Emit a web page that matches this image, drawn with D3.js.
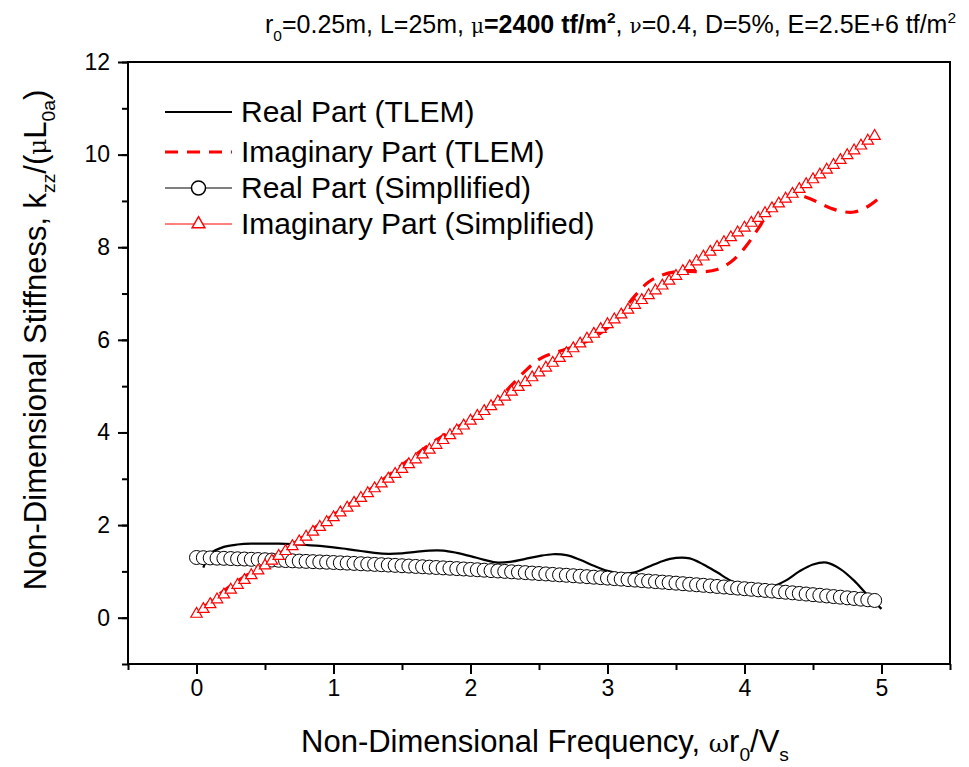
<!DOCTYPE html>
<html>
<head>
<meta charset="utf-8">
<script src="https://cdn.jsdelivr.net/npm/d3@7"></script>
<style>
  body { margin: 0; background: #fff; }
  text { font-family: "Liberation Sans", Arial, sans-serif; fill: #000; }
</style>
</head>
<body>
<div id="plot"></div>
<script>
// TLEM results, every 0.1
var xTlem = [0.05,0.1,0.2,0.3,0.4,0.5,0.6,0.7,0.8,0.9,1.0,1.1,1.2,1.3,1.4,1.5,1.6,1.7,1.8,1.9,2.0,
  2.1,2.2,2.3,2.4,2.5,2.6,2.7,2.8,2.9,3.0,3.1,3.2,3.3,3.4,3.5,3.6,3.7,3.8,3.9,4.0,
  4.1,4.2,4.3,4.4,4.5,4.6,4.7,4.8,4.9,5.0];
var realTlem = [1.08,1.38,1.53,1.58,1.60,1.60,1.60,1.59,1.57,1.55,1.52,1.48,1.44,1.40,1.38,1.39,1.42,1.45,1.45,1.40,1.33,
  1.25,1.19,1.21,1.27,1.33,1.37,1.35,1.25,1.12,1.01,0.95,0.98,1.10,1.22,1.29,1.28,1.15,0.98,0.80,0.68,
  0.64,0.67,0.80,1.00,1.15,1.19,1.05,0.80,0.48,0.19];
var imagTlem = [0.20,0.35,0.58,0.79,0.98,1.17,1.37,1.58,1.80,2.02,2.22,2.42,2.62,2.84,3.07,3.30,3.52,3.74,3.93,4.11,4.29,
  4.48,4.72,5.02,5.33,5.58,5.71,5.80,5.90,6.05,6.26,6.58,6.95,7.25,7.40,7.47,7.48,7.47,7.52,7.68,7.98,
  8.40,8.85,9.08,9.12,9.02,8.88,8.78,8.76,8.88,9.10];

// simplified model, one marker every 0.05
var xSimp = [0,0.05,0.1,0.15,0.2,0.25,0.3,0.35,0.4,0.45,0.5,0.55,0.6,0.65,0.7,0.75,0.8,0.85,0.9,0.95,
  1.0,1.05,1.1,1.15,1.2,1.25,1.3,1.35,1.4,1.45,1.5,1.55,1.6,1.65,1.7,1.75,1.8,1.85,1.9,1.95,
  2.0,2.05,2.1,2.15,2.2,2.25,2.3,2.35,2.4,2.45,2.5,2.55,2.6,2.65,2.7,2.75,2.8,2.85,2.9,2.95,
  3.0,3.05,3.1,3.15,3.2,3.25,3.3,3.35,3.4,3.45,3.5,3.55,3.6,3.65,3.7,3.75,3.8,3.85,3.9,3.95,
  4.0,4.05,4.1,4.15,4.2,4.25,4.3,4.35,4.4,4.45,4.5,4.55,4.6,4.65,4.7,4.75,4.8,4.85,4.9,4.95];
var realSimp = [1.300,1.296,1.291,1.286,1.282,1.277,1.272,1.267,1.261,1.256,1.251,1.245,1.240,1.234,1.228,1.222,1.216,1.210,1.204,1.198,
  1.192,1.185,1.179,1.172,1.165,1.158,1.151,1.144,1.137,1.130,1.122,1.115,1.107,1.100,1.092,1.084,1.076,1.068,1.060,1.052,
  1.043,1.035,1.026,1.017,1.009,1.000,0.991,0.982,0.973,0.963,0.954,0.945,0.935,0.925,0.916,0.906,0.896,0.886,0.875,0.865,
  0.855,0.844,0.834,0.823,0.812,0.801,0.790,0.779,0.768,0.757,0.746,0.734,0.722,0.711,0.699,0.687,0.675,0.663,0.651,0.639,
  0.626,0.614,0.601,0.589,0.576,0.563,0.550,0.537,0.524,0.511,0.497,0.484,0.470,0.456,0.443,0.429,0.415,0.401,0.387,0.372];
var imagSimp = [0.080,0.184,0.289,0.393,0.497,0.601,0.706,0.810,0.914,1.018,1.123,1.227,1.331,1.435,1.540,1.644,1.748,1.852,1.957,2.061,
  2.165,2.269,2.374,2.478,2.582,2.686,2.791,2.895,2.999,3.103,3.208,3.312,3.416,3.520,3.625,3.729,3.833,3.937,4.042,4.146,
  4.250,4.354,4.459,4.563,4.667,4.771,4.876,4.980,5.084,5.188,5.293,5.397,5.501,5.605,5.710,5.814,5.918,6.022,6.127,6.231,
  6.335,6.439,6.544,6.648,6.752,6.856,6.961,7.065,7.169,7.273,7.378,7.482,7.586,7.690,7.795,7.899,8.003,8.107,8.212,8.316,
  8.420,8.524,8.629,8.733,8.837,8.941,9.046,9.150,9.254,9.358,9.463,9.567,9.671,9.775,9.880,9.984,10.088,10.192,10.297,10.401];

var xTicks = [0,1,2,3,4,5];
var yTicks = [0,2,4,6,8,10,12];
var legendNames = ["Real Part (TLEM)","Imaginary Part (TLEM)","Real Part (Simpllified)","Imaginary Part (Simplified)"];

var W = 969, H = 767;
var margin = {t: 62, r: 19, b: 103, l: 128};
var width = W - margin.l - margin.r,
    height = H - margin.t - margin.b;

var svg = d3.select('#plot').append('svg').attr('width', W).attr('height', H);

var x = d3.scaleLinear().domain([-0.5, 5.5]).range([0, width]);
var y = d3.scaleLinear().domain([-1, 12]).range([height, 0]);

var g = svg.append('g').attr('transform', 'translate(' + margin.l + ',' + margin.t + ')');

// frame
g.append('rect').attr('width', width).attr('height', height)
  .attr('fill', 'none').attr('stroke', '#000').attr('stroke-width', 2);

// axes: major + minor ticks, outward
var xMinor = d3.axisBottom(x).tickValues(d3.range(-0.5, 5.6, 0.5)).tickSize(6).tickFormat('');
var xMajor = d3.axisBottom(x).tickValues(xTicks).tickSize(10).tickPadding(6).tickFormat(d3.format('d'));
var yMinor = d3.axisLeft(y).tickValues(d3.range(-1, 12.1, 1)).tickSize(6).tickFormat('');
var yMajor = d3.axisLeft(y).tickValues(yTicks).tickSize(10).tickPadding(8).tickFormat(d3.format('d'));

[[xMinor, 'x'], [xMajor, 'x'], [yMinor, 'y'], [yMajor, 'y']].forEach(function(a){
  var ag = g.append('g').attr('class', 'axis');
  if (a[1] == 'x') ag.attr('transform', 'translate(0,' + height + ')');
  ag.call(a[0]);
  ag.select('.domain').remove();
  ag.selectAll('line').attr('stroke', '#000').attr('stroke-width', 2);
  ag.selectAll('text').attr('font-size', 23).attr('font-family', '"Liberation Sans", Arial, sans-serif');
});

var clip = g.append('g');

// TLEM curves
var tlemR = xTlem.map(function(d, i){ return [d, realTlem[i]]; });
var tlemI = xTlem.map(function(d, i){ return [d, imagTlem[i]]; });
var line = d3.line().x(function(d){ return x(d[0]); }).y(function(d){ return y(d[1]); })
  .curve(d3.curveCatmullRom);

clip.append('path').datum(tlemR).attr('d', line)
  .attr('fill', 'none').attr('stroke', '#000').attr('stroke-width', 2.2);
clip.append('path').datum(tlemI).attr('d', line)
  .attr('fill', 'none').attr('stroke', '#ff0000').attr('stroke-width', 3.2)
  .attr('stroke-dasharray', '13,9');

// simplified
var simR = xSimp.map(function(d, i){ return [d, realSimp[i]]; });
var simI = xSimp.map(function(d, i){ return [d, imagSimp[i]]; });
var lineStraight = d3.line().x(function(d){ return x(d[0]); }).y(function(d){ return y(d[1]); });

clip.append('path').datum(simR).attr('d', lineStraight)
  .attr('fill', 'none').attr('stroke', '#000').attr('stroke-width', 1);
clip.selectAll('.circ').data(simR).enter().append('circle').attr('class', 'circ')
  .attr('cx', function(d){ return x(d[0]); }).attr('cy', function(d){ return y(d[1]); })
  .attr('r', 7).attr('fill', '#fff').attr('stroke', '#000').attr('stroke-width', 1);

var tri = d3.symbol().type(d3.symbolTriangle).size(56);
clip.append('path').datum(simI).attr('d', lineStraight)
  .attr('fill', 'none').attr('stroke', '#ff0000').attr('stroke-width', 1);
clip.selectAll('.tri').data(simI).enter().append('path').attr('class', 'tri')
  .attr('d', tri)
  .attr('transform', function(d){ return 'translate(' + x(d[0]) + ',' + y(d[1]) + ')'; })
  .attr('fill', '#fff').attr('stroke', '#ff0000').attr('stroke-width', 1.2);

// rich text helper
function rich(sel, parts, size){
  parts.forEach(function(p){
    var t = sel.append('tspan').text(p.t);
    if (p.b) t.attr('font-weight', 'bold');
    if (p.sym) t.attr('font-family', '"DejaVu Serif", serif').attr('font-size', size * 0.8);
    if (p.sub) t.attr('font-size', size * 0.62).attr('dy', size * 0.3);
    if (p.sup) t.attr('font-size', size * 0.62).attr('dy', -size * 0.42);
    if (p.sub || p.sup) {
      // undo baseline shift on the next piece
      p.reset = p.sub ? -size * 0.3 : size * 0.42;
    }
  });
  // apply resets
  var spans = sel.selectAll('tspan').nodes();
  parts.forEach(function(p, i){
    if (p.reset && spans[i + 1]) {
      var s = d3.select(spans[i + 1]);
      var old = +s.attr('dy') || 0;
      s.attr('dy', old + p.reset);
    }
  });
}

// title
var title = svg.append('text').attr('x', 265).attr('y', 33).attr('font-size', 25);
rich(title, [
  {t: 'r'}, {t: '0', sub: 1}, {t: '=0.25m, L=25m, '}, {t: 'μ', sym: 1}, {t: '=2400 tf/m', b: 1}, {t: '2', sup: 1, b: 1},
  {t: ', '}, {t: 'ν', sym: 1}, {t: '=0.4, D=5%, E=2.5E+6 tf/m'}, {t: '2', sup: 1}
], 25);

// x label
var xl = svg.append('text').attr('x', 545).attr('y', 752)
  .attr('text-anchor', 'middle').attr('font-size', 31);
rich(xl, [
  {t: 'Non-Dimensional Frequency, '}, {t: 'ω', sym: 1}, {t: 'r'}, {t: '0', sub: 1}, {t: '/V'}, {t: 's', sub: 1}
], 31);

// y label
var yl = svg.append('text').attr('transform', 'translate(46,' + 340 + ') rotate(-90)')
  .attr('text-anchor', 'middle').attr('font-size', 31);
rich(yl, [
  {t: 'Non-Dimensional Stiffness, k'}, {t: 'zz', sub: 1}, {t: '/('}, {t: 'μ', sym: 1}, {t: 'L'}, {t: '0a', sub: 1}, {t: ')'}
], 31);

// legend
var legY = [112, 152, 188, 224];
var leg = svg.append('g');
legendNames.forEach(function(name, i){
  var ly = legY[i];
  var lg = leg.append('g');
  if (i == 0) {
    lg.append('line').attr('x1', 165).attr('x2', 232).attr('y1', ly).attr('y2', ly)
      .attr('stroke', '#000').attr('stroke-width', 2.2);
  } else if (i == 1) {
    lg.append('line').attr('x1', 165).attr('x2', 232).attr('y1', ly).attr('y2', ly)
      .attr('stroke', '#ff0000').attr('stroke-width', 3.2).attr('stroke-dasharray', '13,9');
  } else {
    var col = i == 2 ? '#000' : '#ff0000';
    lg.append('line').attr('x1', 165).attr('x2', 232).attr('y1', ly).attr('y2', ly)
      .attr('stroke', col).attr('stroke-width', 1);
    if (i == 2) {
      lg.append('circle').attr('cx', 198.5).attr('cy', ly).attr('r', 7)
        .attr('fill', '#fff').attr('stroke', '#000').attr('stroke-width', 1.5);
    } else {
      lg.append('path').attr('d', d3.symbol().type(d3.symbolTriangle).size(70))
        .attr('transform', 'translate(198.5,' + ly + ')')
        .attr('fill', '#fff').attr('stroke', '#ff0000').attr('stroke-width', 1.5);
    }
  }
  lg.append('text').attr('x', 241).attr('y', ly + 10).attr('font-size', 30).text(name);
});
</script>
</body>
</html>
